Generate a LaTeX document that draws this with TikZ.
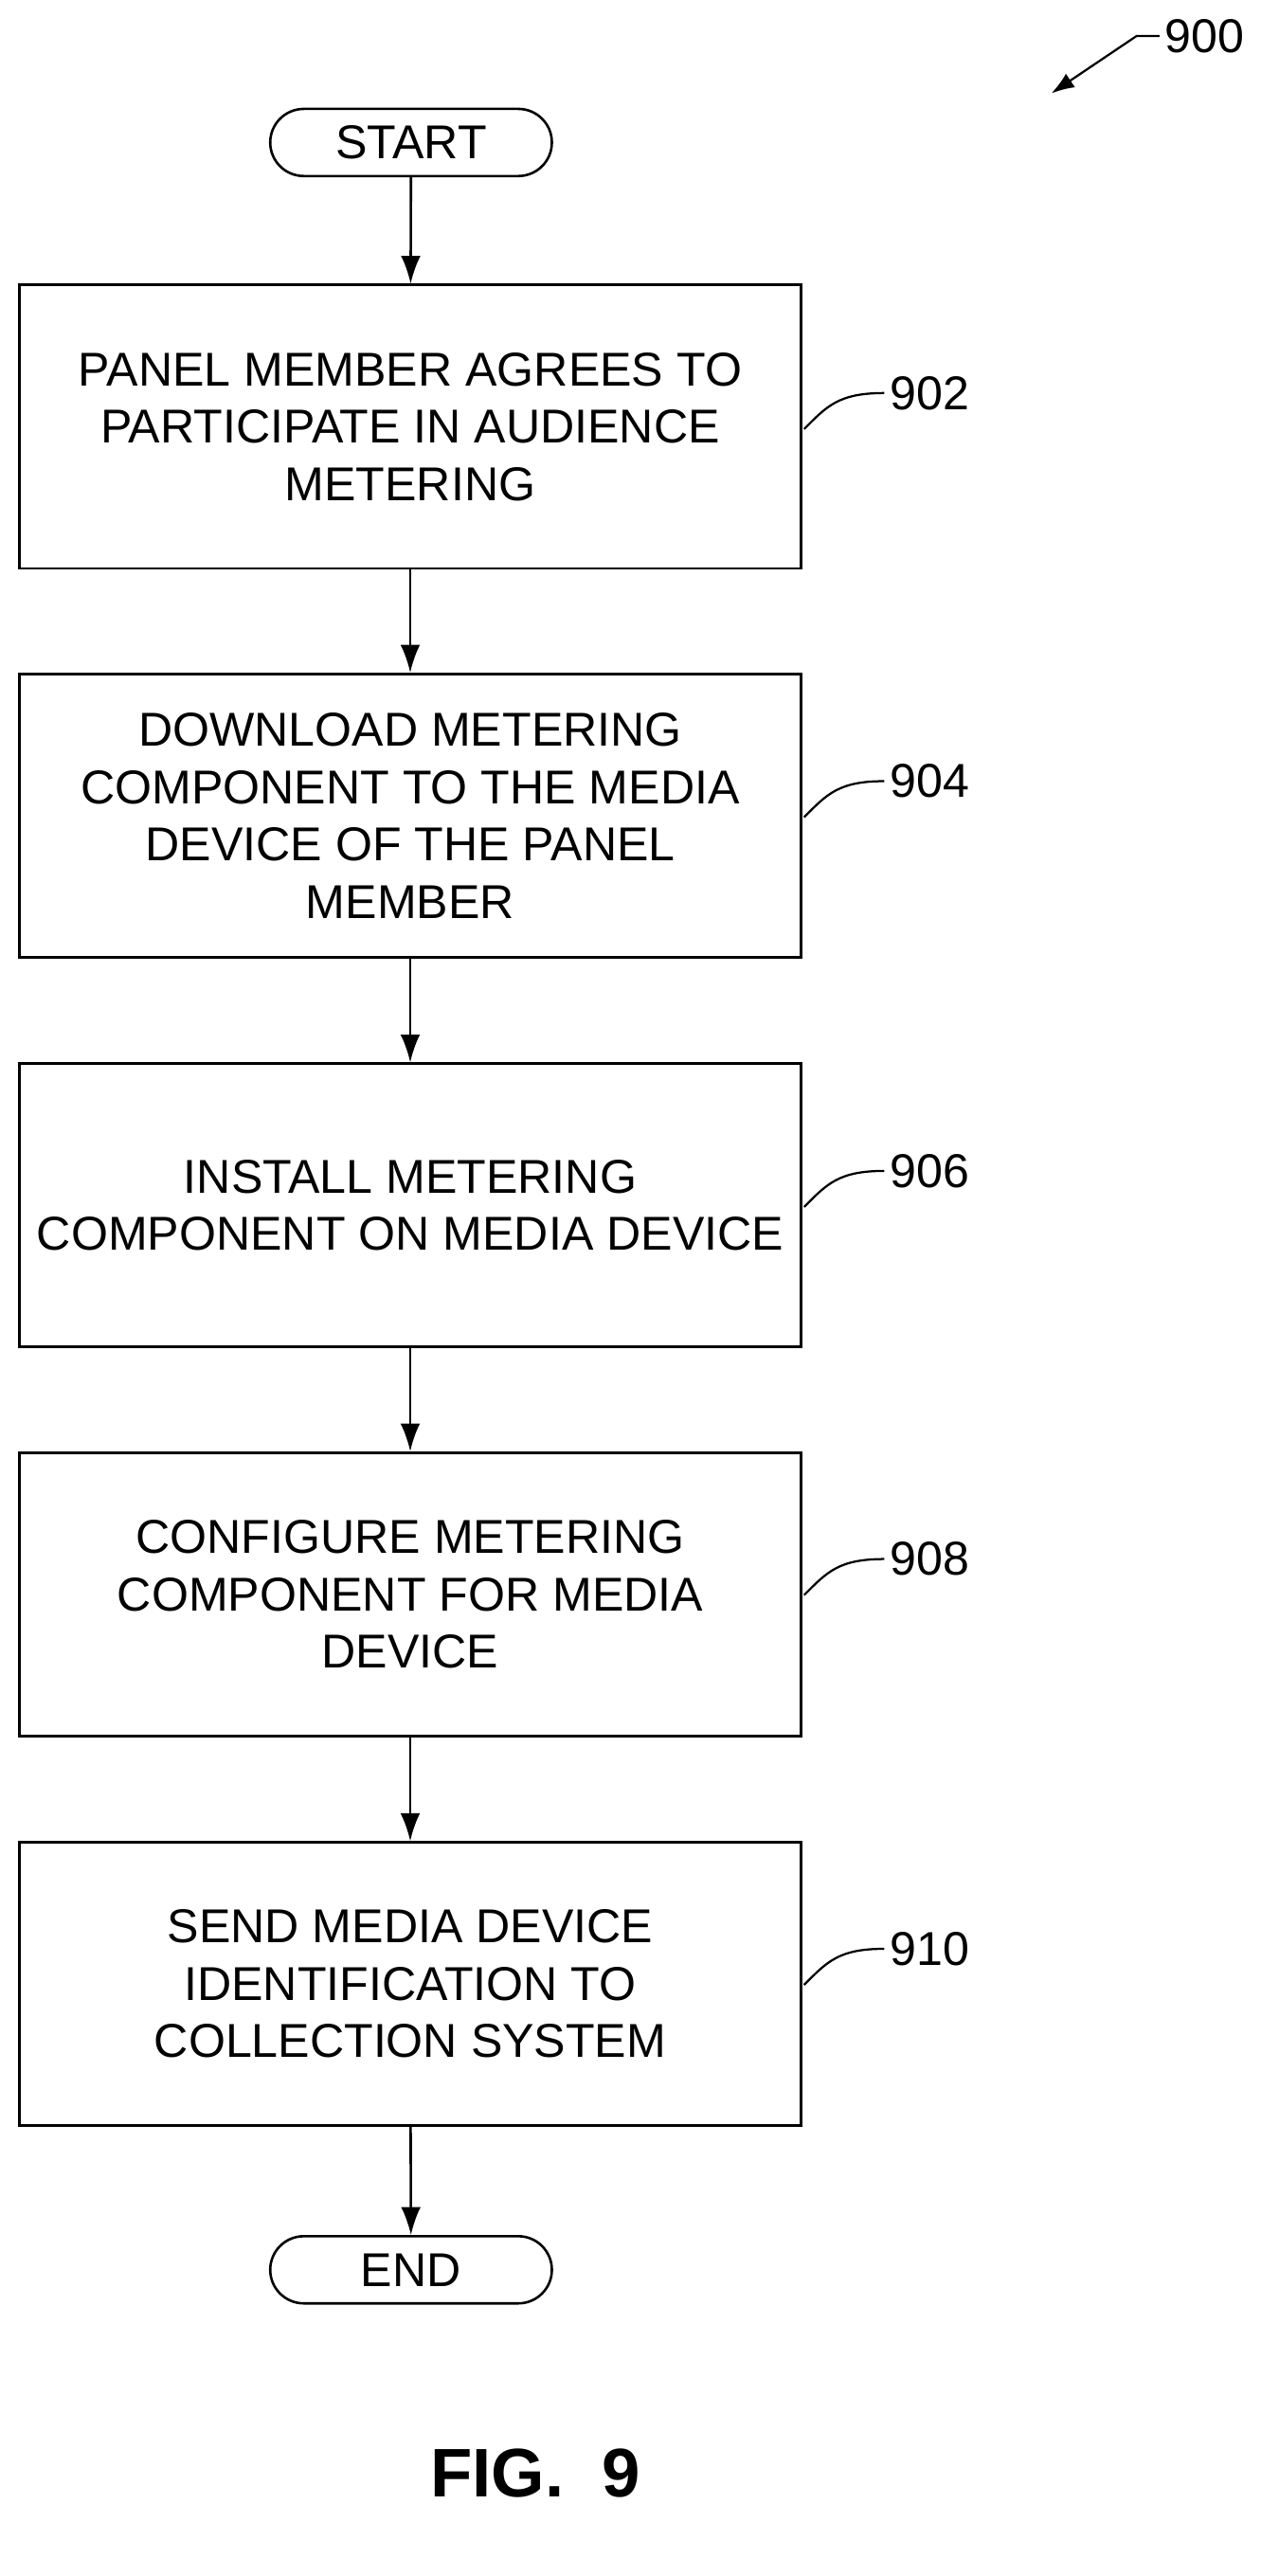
\documentclass[tikz,border=0pt]{standalone}
\usepackage{fontspec}
\setmainfont{Liberation Sans}
\usetikzlibrary{arrows.meta,shapes.misc}
\begin{document}
\begin{tikzpicture}[x=1pt,y=-1pt,
  box/.style={draw,line width=1.5pt,minimum width=477pt,minimum height=173pt,align=center,font=\fontsize{29}{35}\selectfont,inner sep=0},
  term/.style={draw,line width=1.5pt,rounded rectangle,minimum width=172pt,minimum height=41pt,font=\fontsize{29}{30}\selectfont,inner sep=0},
  arr/.style={line width=1.5pt,-{Latex[length=17pt,width=12pt]}},
  lbl/.style={font=\fontsize{29}{30}\selectfont,anchor=west},
  lead/.style={line width=1.3pt}]
\useasboundingbox (0,0) rectangle (770,1573);
\node[term] (start) at (251,87) {START};
\node[box] (b902) at (250.5,260.5) {PANEL MEMBER AGREES TO\\PARTICIPATE IN AUDIENCE\\METERING};
\node[box] (b904) at (250.5,498) {DOWNLOAD METERING\\COMPONENT TO THE MEDIA\\DEVICE OF THE PANEL\\MEMBER};
\node[box] (b906) at (250.5,736) {INSTALL METERING\\COMPONENT ON MEDIA DEVICE};
\node[box] (b908) at (250.5,973.5) {CONFIGURE METERING\\COMPONENT FOR MEDIA\\DEVICE};
\node[box] (b910) at (250.5,1211.5) {SEND MEDIA DEVICE\\IDENTIFICATION TO\\COLLECTION SYSTEM};
\node[term] (end) at (251,1386) {END};
\draw[arr] (start) -- (b902);
\draw[arr] (b902) -- (b904);
\draw[arr] (b904) -- (b906);
\draw[arr] (b906) -- (b908);
\draw[arr] (b908) -- (b910);
\draw[arr] (b910) -- (end);
\foreach \n/\y in {902/240,904/477,906/715,908/952,910/1190}{
  \node[lbl] (l\n) at (540,\y) {\n};
  \draw[lead] (491,\y+22) .. controls (505,\y+8) and (512,\y) .. (l\n.west);
}
\node[lbl] (l900) at (708,22) {900};
\coordinate (a900) at (642,57);
\draw[lead,-{Latex[length=14pt,width=10pt]}] (l900.west) -- ++(-14,0) -- (a900);
\node[font=\bfseries\fontsize{42}{44}\selectfont] (fig) at (327,1510) {FIG.\ \ 9};
\end{tikzpicture}
\end{document}
